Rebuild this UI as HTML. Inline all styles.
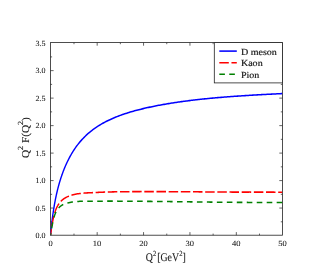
<!DOCTYPE html>
<html><head><meta charset="utf-8"><style>
html,body{margin:0;padding:0;background:#fff;}
svg{display:block;font-family:"Liberation Serif",serif;}
text{fill:#1a1a1a;}
.t{filter:grayscale(1);text-rendering:geometricPrecision;}
text{stroke:#1a1a1a;stroke-width:0.2px;}
text.s{stroke-width:0.08px;}
</style></head><body>
<svg width="334" height="278" viewBox="0 0 334 278">
<defs><clipPath id="c"><rect x="50.5" y="42.60" width="231.90" height="193.60"/></clipPath></defs>
<rect width="334" height="278" fill="#fff"/>
<rect x="50.5" y="42.60" width="231.90" height="192.60" fill="none" stroke="#222" stroke-width="0.8"/>
<path d="M73.99,235.2v-1.6M73.99,42.60v1.6M97.18,235.2v-3.1M97.18,42.60v3.1M120.37,235.2v-1.6M120.37,42.60v1.6M143.56,235.2v-3.1M143.56,42.60v3.1M166.75,235.2v-1.6M166.75,42.60v1.6M189.94,235.2v-3.1M189.94,42.60v3.1M213.13,235.2v-1.6M213.13,42.60v1.6M236.32,235.2v-3.1M236.32,42.60v3.1M259.51,235.2v-1.6M259.51,42.60v1.6M50.5,221.81h1.6M282.4,221.81h-1.6M50.5,208.06h3.1M282.4,208.06h-3.1M50.5,194.32h1.6M282.4,194.32h-1.6M50.5,180.58h3.1M282.4,180.58h-3.1M50.5,166.84h1.6M282.4,166.84h-1.6M50.5,153.10h3.1M282.4,153.10h-3.1M50.5,139.35h1.6M282.4,139.35h-1.6M50.5,125.61h3.1M282.4,125.61h-3.1M50.5,111.87h1.6M282.4,111.87h-1.6M50.5,98.12h3.1M282.4,98.12h-3.1M50.5,84.38h1.6M282.4,84.38h-1.6M50.5,70.64h3.1M282.4,70.64h-3.1M50.5,56.90h1.6M282.4,56.90h-1.6" stroke="#222" stroke-width="0.7" fill="none"/>
<g clip-path="url(#c)"><g fill="none" stroke-width="1.55" transform="translate(50.5,0) scale(0.9,1)"><path d="M0.00,235.20 L0.20,233.33 L0.39,231.52 L0.59,229.78 L0.78,228.09 L0.98,226.46 L1.17,224.88 L1.37,223.35 L1.57,221.87 L1.76,220.44 L1.96,219.04 L2.15,217.69 L2.35,216.37 L2.54,215.10 L2.74,213.85 L2.94,212.64 L3.13,211.46 L3.33,210.31 L3.52,209.19 L3.72,208.09 L3.91,207.03 L4.11,205.98 L4.31,204.96 L4.50,203.97 L4.70,202.99 L4.89,202.04 L5.09,201.11 L5.28,200.20 L5.48,199.30 L5.68,198.43 L5.87,197.57 L6.07,196.72 L6.26,195.90 L6.46,195.09 L6.65,194.29 L6.85,193.51 L7.05,192.74 L7.24,191.98 L7.44,191.24 L7.63,190.51 L7.83,189.80 L8.02,189.09 L8.22,188.40 L8.41,187.71 L8.61,187.04 L8.81,186.38 L9.00,185.73 L9.20,185.08 L9.39,184.45 L9.59,183.83 L9.78,183.21 L9.98,182.60 L10.18,182.01 L10.37,181.42 L10.57,180.83 L10.76,180.26 L10.96,179.69 L11.15,179.13 L11.35,178.58 L11.55,178.04 L11.74,177.50 L11.94,176.97 L12.13,176.44 L12.33,175.92 L12.52,175.41 L12.72,174.90 L12.92,174.40 L13.11,173.91 L13.31,173.42 L13.50,172.93 L13.70,172.45 L13.89,171.98 L14.09,171.51 L14.29,171.05 L14.48,170.59 L14.68,170.14 L14.87,169.69 L15.07,169.25 L15.26,168.81 L15.46,168.38 L16.68,165.77 L17.89,163.32 L19.11,161.01 L20.33,158.83 L21.55,156.76 L22.76,154.80 L23.98,152.94 L25.20,151.17 L26.41,149.48 L27.63,147.87 L28.85,146.34 L30.07,144.87 L31.28,143.47 L32.50,142.13 L33.72,140.85 L34.93,139.62 L36.15,138.44 L37.37,137.31 L38.59,136.22 L39.80,135.18 L41.02,134.17 L42.24,133.21 L43.45,132.28 L44.67,131.38 L45.89,130.51 L47.11,129.68 L48.32,128.87 L49.54,128.09 L50.76,127.34 L51.97,126.61 L53.19,125.90 L54.41,125.22 L55.62,124.56 L56.84,123.92 L58.06,123.30 L59.28,122.69 L60.49,122.11 L61.71,121.54 L62.93,120.98 L64.14,120.45 L65.36,119.92 L66.58,119.41 L67.80,118.92 L69.01,118.44 L70.23,117.97 L71.45,117.51 L72.66,117.06 L73.88,116.63 L75.10,116.20 L76.32,115.79 L77.53,115.38 L78.75,114.98 L79.97,114.60 L81.18,114.22 L82.40,113.85 L83.62,113.49 L84.84,113.14 L86.05,112.79 L87.27,112.45 L88.49,112.12 L89.70,111.80 L90.92,111.48 L92.14,111.17 L93.36,110.86 L94.57,110.57 L95.79,110.27 L97.01,109.98 L98.22,109.70 L99.44,109.42 L100.66,109.15 L101.88,108.88 L103.09,108.62 L104.31,108.36 L105.53,108.11 L106.74,107.86 L107.96,107.61 L109.18,107.37 L110.40,107.13 L111.61,106.90 L112.83,106.67 L114.05,106.44 L115.26,106.22 L116.48,106.00 L117.70,105.78 L118.92,105.57 L120.13,105.36 L121.35,105.16 L122.57,104.96 L123.78,104.76 L125.00,104.56 L126.22,104.37 L127.43,104.18 L128.65,103.99 L129.87,103.80 L131.09,103.62 L132.30,103.44 L133.52,103.27 L134.74,103.09 L135.95,102.92 L137.17,102.75 L138.39,102.58 L139.61,102.42 L140.82,102.26 L142.04,102.10 L143.26,101.94 L144.47,101.79 L145.69,101.63 L146.91,101.48 L148.13,101.33 L149.34,101.19 L150.56,101.04 L151.78,100.90 L152.99,100.76 L154.21,100.62 L155.43,100.48 L156.65,100.35 L157.86,100.21 L159.08,100.08 L160.30,99.95 L161.51,99.83 L162.73,99.70 L163.95,99.58 L165.17,99.46 L166.38,99.34 L167.60,99.22 L168.82,99.10 L170.03,98.99 L171.25,98.87 L172.47,98.76 L173.69,98.65 L174.90,98.54 L176.12,98.44 L177.34,98.33 L178.55,98.23 L179.77,98.13 L180.99,98.03 L182.21,97.93 L183.42,97.83 L184.64,97.73 L185.86,97.64 L187.07,97.54 L188.29,97.45 L189.51,97.36 L190.73,97.27 L191.94,97.18 L193.16,97.09 L194.38,97.00 L195.59,96.92 L196.81,96.83 L198.03,96.75 L199.24,96.67 L200.46,96.59 L201.68,96.51 L202.90,96.43 L204.11,96.35 L205.33,96.27 L206.55,96.19 L207.76,96.12 L208.98,96.04 L210.20,95.97 L211.42,95.90 L212.63,95.82 L213.85,95.75 L215.07,95.68 L216.28,95.61 L217.50,95.54 L218.72,95.47 L219.94,95.41 L221.15,95.34 L222.37,95.27 L223.59,95.21 L224.80,95.14 L226.02,95.08 L227.24,95.01 L228.46,94.95 L229.67,94.89 L230.89,94.83 L232.11,94.77 L233.32,94.70 L234.54,94.64 L235.76,94.58 L236.98,94.52 L238.19,94.47 L239.41,94.41 L240.63,94.35 L241.84,94.29 L243.06,94.23 L244.28,94.18 L245.50,94.12 L246.71,94.06 L247.93,94.01 L249.15,93.95 L250.36,93.90 L251.58,93.84 L252.80,93.79 L254.02,93.74 L255.23,93.68 L256.45,93.63 L257.67,93.57" stroke="#0000ff"/><path d="M0.00,235.20 L0.20,234.24 L0.39,233.06 L0.59,231.84 L0.78,230.60 L0.98,229.38 L1.17,228.18 L1.37,227.02 L1.57,225.90 L1.76,224.81 L1.96,223.77 L2.15,222.76 L2.35,221.80 L2.54,220.87 L2.74,219.98 L2.94,219.13 L3.13,218.31 L3.33,217.53 L3.52,216.78 L3.72,216.06 L3.91,215.37 L4.11,214.70 L4.31,214.07 L4.50,213.46 L4.70,212.87 L4.89,212.30 L5.09,211.76 L5.28,211.24 L5.48,210.74 L5.68,210.25 L5.87,209.79 L6.07,209.34 L6.26,208.91 L6.46,208.49 L6.65,208.09 L6.85,207.70 L7.05,207.32 L7.24,206.96 L7.44,206.61 L7.63,206.27 L7.83,205.94 L8.02,205.62 L8.22,205.32 L8.41,205.02 L8.61,204.73 L8.81,204.45 L9.00,204.18 L9.20,203.92 L9.39,203.66 L9.59,203.41 L9.78,203.17 L9.98,202.94 L10.18,202.71 L10.37,202.49 L10.57,202.28 L10.76,202.07 L10.96,201.87 L11.15,201.67 L11.35,201.48 L11.55,201.29 L11.74,201.11 L11.94,200.93 L12.13,200.76 L12.33,200.59 L12.52,200.43 L12.72,200.27 L12.92,200.11 L13.11,199.96 L13.31,199.81 L13.50,199.66 L13.70,199.52 L13.89,199.38 L14.09,199.25 L14.29,199.12 L14.48,198.99 L14.68,198.86 L14.87,198.74 L15.07,198.62 L15.26,198.50 L15.46,198.38 L16.68,197.72 L17.89,197.14 L19.11,196.62 L20.33,196.16 L21.55,195.75 L22.76,195.38 L23.98,195.05 L25.20,194.75 L26.41,194.48 L27.63,194.24 L28.85,194.03 L30.07,193.84 L31.28,193.67 L32.50,193.53 L33.72,193.40 L34.93,193.29 L36.15,193.19 L37.37,193.10 L38.59,193.02 L39.80,192.95 L41.02,192.89 L42.24,192.83 L43.45,192.78 L44.67,192.73 L45.89,192.68 L47.11,192.63 L48.32,192.58 L49.54,192.53 L50.76,192.48 L51.97,192.42 L53.19,192.37 L54.41,192.32 L55.62,192.27 L56.84,192.22 L58.06,192.18 L59.28,192.14 L60.49,192.10 L61.71,192.07 L62.93,192.03 L64.14,192.00 L65.36,191.97 L66.58,191.95 L67.80,191.92 L69.01,191.89 L70.23,191.87 L71.45,191.85 L72.66,191.83 L73.88,191.81 L75.10,191.79 L76.32,191.77 L77.53,191.76 L78.75,191.74 L79.97,191.73 L81.18,191.71 L82.40,191.70 L83.62,191.69 L84.84,191.68 L86.05,191.67 L87.27,191.66 L88.49,191.65 L89.70,191.65 L90.92,191.64 L92.14,191.63 L93.36,191.63 L94.57,191.62 L95.79,191.62 L97.01,191.61 L98.22,191.61 L99.44,191.61 L100.66,191.60 L101.88,191.60 L103.09,191.60 L104.31,191.60 L105.53,191.60 L106.74,191.60 L107.96,191.60 L109.18,191.60 L110.40,191.60 L111.61,191.60 L112.83,191.60 L114.05,191.60 L115.26,191.60 L116.48,191.61 L117.70,191.61 L118.92,191.61 L120.13,191.62 L121.35,191.62 L122.57,191.62 L123.78,191.63 L125.00,191.63 L126.22,191.63 L127.43,191.64 L128.65,191.64 L129.87,191.65 L131.09,191.65 L132.30,191.66 L133.52,191.66 L134.74,191.67 L135.95,191.68 L137.17,191.68 L138.39,191.69 L139.61,191.69 L140.82,191.70 L142.04,191.71 L143.26,191.71 L144.47,191.72 L145.69,191.73 L146.91,191.74 L148.13,191.74 L149.34,191.75 L150.56,191.76 L151.78,191.77 L152.99,191.77 L154.21,191.78 L155.43,191.79 L156.65,191.80 L157.86,191.81 L159.08,191.82 L160.30,191.82 L161.51,191.83 L162.73,191.84 L163.95,191.85 L165.17,191.86 L166.38,191.87 L167.60,191.88 L168.82,191.89 L170.03,191.90 L171.25,191.91 L172.47,191.91 L173.69,191.92 L174.90,191.93 L176.12,191.94 L177.34,191.95 L178.55,191.96 L179.77,191.97 L180.99,191.98 L182.21,191.99 L183.42,192.00 L184.64,192.01 L185.86,192.02 L187.07,192.03 L188.29,192.04 L189.51,192.05 L190.73,192.06 L191.94,192.06 L193.16,192.07 L194.38,192.08 L195.59,192.08 L196.81,192.09 L198.03,192.09 L199.24,192.09 L200.46,192.10 L201.68,192.10 L202.90,192.10 L204.11,192.10 L205.33,192.11 L206.55,192.11 L207.76,192.11 L208.98,192.11 L210.20,192.11 L211.42,192.11 L212.63,192.11 L213.85,192.11 L215.07,192.11 L216.28,192.11 L217.50,192.11 L218.72,192.11 L219.94,192.11 L221.15,192.10 L222.37,192.10 L223.59,192.10 L224.80,192.10 L226.02,192.10 L227.24,192.10 L228.46,192.10 L229.67,192.10 L230.89,192.10 L232.11,192.10 L233.32,192.10 L234.54,192.10 L235.76,192.11 L236.98,192.11 L238.19,192.11 L239.41,192.11 L240.63,192.11 L241.84,192.12 L243.06,192.12 L244.28,192.13 L245.50,192.13 L246.71,192.14 L247.93,192.14 L249.15,192.15 L250.36,192.16 L251.58,192.16 L252.80,192.17 L254.02,192.18 L255.23,192.19 L256.45,192.20 L257.67,192.21" stroke="#ff0000" stroke-dasharray="10.556 2.967" stroke-dashoffset="4.281"/><path d="M0.00,235.20 L0.20,234.60 L0.39,233.71 L0.59,232.69 L0.78,231.61 L0.98,230.50 L1.17,229.40 L1.37,228.31 L1.57,227.24 L1.76,226.20 L1.96,225.20 L2.15,224.23 L2.35,223.31 L2.54,222.43 L2.74,221.58 L2.94,220.78 L3.13,220.01 L3.33,219.28 L3.52,218.59 L3.72,217.92 L3.91,217.29 L4.11,216.69 L4.31,216.12 L4.50,215.58 L4.70,215.06 L4.89,214.57 L5.09,214.10 L5.28,213.65 L5.48,213.22 L5.68,212.81 L5.87,212.42 L6.07,212.04 L6.26,211.69 L6.46,211.34 L6.65,211.02 L6.85,210.70 L7.05,210.40 L7.24,210.11 L7.44,209.84 L7.63,209.57 L7.83,209.32 L8.02,209.07 L8.22,208.84 L8.41,208.61 L8.61,208.39 L8.81,208.18 L9.00,207.98 L9.20,207.79 L9.39,207.60 L9.59,207.42 L9.78,207.24 L9.98,207.08 L10.18,206.91 L10.37,206.76 L10.57,206.60 L10.76,206.46 L10.96,206.31 L11.15,206.18 L11.35,206.04 L11.55,205.91 L11.74,205.79 L11.94,205.67 L12.13,205.55 L12.33,205.44 L12.52,205.33 L12.72,205.22 L12.92,205.12 L13.11,205.02 L13.31,204.92 L13.50,204.82 L13.70,204.73 L13.89,204.64 L14.09,204.55 L14.29,204.47 L14.48,204.39 L14.68,204.31 L14.87,204.23 L15.07,204.15 L15.26,204.08 L15.46,204.00 L16.68,203.59 L17.89,203.24 L19.11,202.94 L20.33,202.68 L21.55,202.45 L22.76,202.24 L23.98,202.07 L25.20,201.91 L26.41,201.77 L27.63,201.65 L28.85,201.55 L30.07,201.47 L31.28,201.41 L32.50,201.35 L33.72,201.32 L34.93,201.29 L36.15,201.27 L37.37,201.25 L38.59,201.24 L39.80,201.24 L41.02,201.24 L42.24,201.25 L43.45,201.25 L44.67,201.25 L45.89,201.26 L47.11,201.26 L48.32,201.26 L49.54,201.25 L50.76,201.24 L51.97,201.23 L53.19,201.21 L54.41,201.20 L55.62,201.19 L56.84,201.18 L58.06,201.17 L59.28,201.16 L60.49,201.16 L61.71,201.15 L62.93,201.15 L64.14,201.14 L65.36,201.14 L66.58,201.14 L67.80,201.14 L69.01,201.14 L70.23,201.14 L71.45,201.14 L72.66,201.14 L73.88,201.14 L75.10,201.15 L76.32,201.15 L77.53,201.15 L78.75,201.16 L79.97,201.16 L81.18,201.17 L82.40,201.18 L83.62,201.18 L84.84,201.19 L86.05,201.19 L87.27,201.20 L88.49,201.21 L89.70,201.22 L90.92,201.22 L92.14,201.23 L93.36,201.24 L94.57,201.25 L95.79,201.26 L97.01,201.27 L98.22,201.28 L99.44,201.29 L100.66,201.30 L101.88,201.31 L103.09,201.32 L104.31,201.33 L105.53,201.34 L106.74,201.35 L107.96,201.36 L109.18,201.37 L110.40,201.38 L111.61,201.39 L112.83,201.41 L114.05,201.42 L115.26,201.43 L116.48,201.44 L117.70,201.45 L118.92,201.46 L120.13,201.48 L121.35,201.49 L122.57,201.50 L123.78,201.51 L125.00,201.53 L126.22,201.54 L127.43,201.55 L128.65,201.56 L129.87,201.58 L131.09,201.59 L132.30,201.60 L133.52,201.62 L134.74,201.63 L135.95,201.64 L137.17,201.66 L138.39,201.67 L139.61,201.68 L140.82,201.70 L142.04,201.71 L143.26,201.72 L144.47,201.74 L145.69,201.75 L146.91,201.76 L148.13,201.78 L149.34,201.79 L150.56,201.80 L151.78,201.82 L152.99,201.83 L154.21,201.85 L155.43,201.86 L156.65,201.87 L157.86,201.89 L159.08,201.90 L160.30,201.91 L161.51,201.93 L162.73,201.94 L163.95,201.96 L165.17,201.97 L166.38,201.99 L167.60,202.00 L168.82,202.01 L170.03,202.03 L171.25,202.04 L172.47,202.06 L173.69,202.07 L174.90,202.08 L176.12,202.10 L177.34,202.11 L178.55,202.13 L179.77,202.14 L180.99,202.16 L182.21,202.17 L183.42,202.18 L184.64,202.20 L185.86,202.21 L187.07,202.23 L188.29,202.24 L189.51,202.25 L190.73,202.26 L191.94,202.27 L193.16,202.29 L194.38,202.29 L195.59,202.30 L196.81,202.31 L198.03,202.32 L199.24,202.33 L200.46,202.33 L201.68,202.34 L202.90,202.35 L204.11,202.35 L205.33,202.36 L206.55,202.36 L207.76,202.37 L208.98,202.37 L210.20,202.37 L211.42,202.38 L212.63,202.38 L213.85,202.38 L215.07,202.39 L216.28,202.39 L217.50,202.39 L218.72,202.39 L219.94,202.40 L221.15,202.40 L222.37,202.40 L223.59,202.40 L224.80,202.41 L226.02,202.41 L227.24,202.41 L228.46,202.41 L229.67,202.42 L230.89,202.42 L232.11,202.42 L233.32,202.43 L234.54,202.43 L235.76,202.43 L236.98,202.44 L238.19,202.44 L239.41,202.45 L240.63,202.45 L241.84,202.46 L243.06,202.47 L244.28,202.47 L245.50,202.48 L246.71,202.49 L247.93,202.50 L249.15,202.51 L250.36,202.52 L251.58,202.53 L252.80,202.54 L254.02,202.55 L255.23,202.56 L256.45,202.57 L257.67,202.59" stroke="#008000" stroke-dasharray="6.222 4.856" stroke-dashoffset="4.127"/></g></g>
<g class="t">
<text transform="translate(50.70,245.5) scale(1.08,1)" text-anchor="middle" class="s" font-size="7.9">0</text>
<text transform="translate(97.08,245.5) scale(1.08,1)" text-anchor="middle" class="s" font-size="7.9">10</text>
<text transform="translate(143.46,245.5) scale(1.08,1)" text-anchor="middle" class="s" font-size="7.9">20</text>
<text transform="translate(189.84,245.5) scale(1.08,1)" text-anchor="middle" class="s" font-size="7.9">30</text>
<text transform="translate(236.22,245.5) scale(1.08,1)" text-anchor="middle" class="s" font-size="7.9">40</text>
<text transform="translate(282.60,245.5) scale(1.08,1)" text-anchor="middle" class="s" font-size="7.9">50</text>
<text transform="translate(45.5,238.25) scale(1.02,1)" text-anchor="end" class="s" font-size="7.9">0.0</text>
<text transform="translate(45.5,210.76) scale(1.02,1)" text-anchor="end" class="s" font-size="7.9">0.5</text>
<text transform="translate(45.5,183.28) scale(1.02,1)" text-anchor="end" class="s" font-size="7.9">1.0</text>
<text transform="translate(45.5,155.80) scale(1.02,1)" text-anchor="end" class="s" font-size="7.9">1.5</text>
<text transform="translate(45.5,128.31) scale(1.02,1)" text-anchor="end" class="s" font-size="7.9">2.0</text>
<text transform="translate(45.5,100.83) scale(1.02,1)" text-anchor="end" class="s" font-size="7.9">2.5</text>
<text transform="translate(45.5,73.34) scale(1.02,1)" text-anchor="end" class="s" font-size="7.9">3.0</text>
<text transform="translate(45.5,45.86) scale(1.02,1)" text-anchor="end" class="s" font-size="7.9">3.5</text>
<text transform="translate(165.8,261.3) scale(0.835,1)" text-anchor="middle" font-size="11.8" style="stroke-width:0.12px">Q<tspan font-size="7.8" dy="-5.8" dx="0.3">2</tspan><tspan dy="5.8" dx="1.0">[GeV</tspan><tspan font-size="7.8" dy="-5.8" dx="0.3">2</tspan><tspan dy="5.8">]</tspan></text>
<text transform="translate(29.0,137.6) rotate(-90) scale(0.95,0.9)" text-anchor="middle" font-size="11.8" style="stroke-width:0.12px">Q<tspan font-size="8.6" dy="-7.0">2</tspan><tspan dy="7.0"> F(Q</tspan><tspan font-size="8.6" dy="-7.0">2</tspan><tspan dy="7.0">)</tspan></text>
</g>
<rect x="214.3" y="42.60" width="68.10" height="40.30" fill="#fff" stroke="#222" stroke-width="0.8"/>
<g fill="none" stroke-width="1.55"><path d="M219.3,51.1H236.8" stroke="#0000ff"/><path d="M219.3,62.8H236.8" stroke="#ff0000" stroke-dasharray="9.5 2.67"/><path d="M219.3,74.3H236.8" stroke="#008000" stroke-dasharray="5.6 4.37"/></g>
<g class="t">
<text transform="translate(240.9,54.6) scale(1.08,1)" font-size="9.3">D meson</text>
<text transform="translate(240.9,66.1) scale(1.08,1)" font-size="9.3">Kaon</text>
<text transform="translate(240.9,77.7) scale(1.08,1)" font-size="9.3">Pion</text>
</g>
</svg>
</body></html>
